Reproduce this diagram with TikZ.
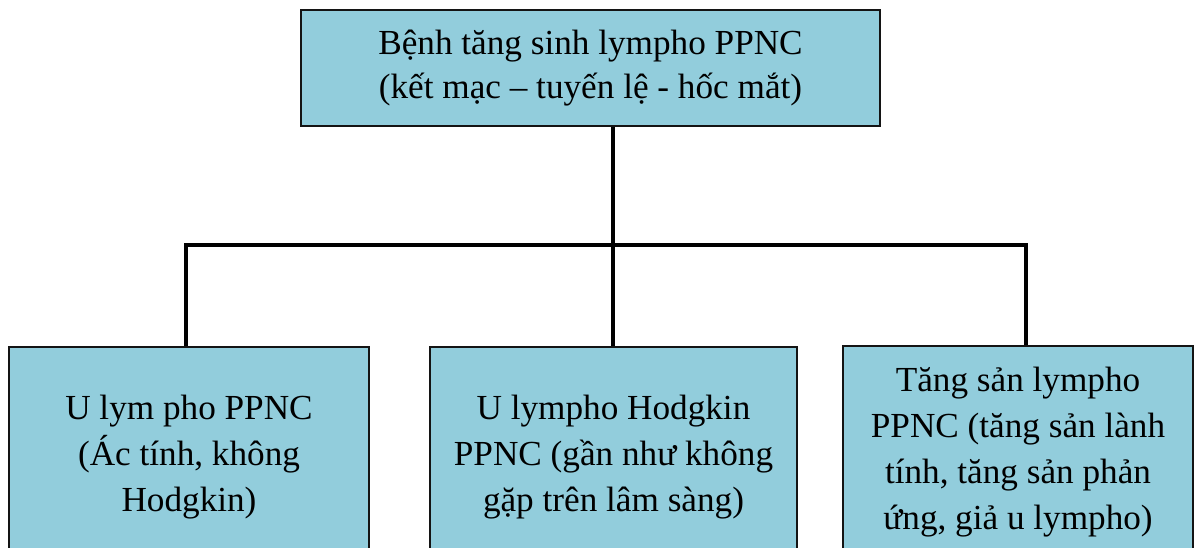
\documentclass[tikz,border=0pt]{standalone}
\usepackage{fontspec}
\setmainfont{Liberation Serif}
\definecolor{boxfill}{RGB}{146,205,220}
\definecolor{boxline}{RGB}{20,20,20}
\begin{document}
\begin{tikzpicture}[x=1pt,y=-1pt,
  box/.style={draw=boxline,line width=2pt,fill=boxfill,rectangle,align=center,
    inner sep=0pt,font=\fontsize{35.2}{46}\selectfont},
  conn/.style={draw=black,line width=3.2pt,line cap=rect}]
\useasboundingbox (0,0) rectangle (1194,548);
\clip (0,0) rectangle (1194,548);
\node[box,minimum width=579pt,minimum height=116pt,font=\fontsize{35.2}{44}\selectfont] (top) at (590.5,68)
  {Bệnh tăng sinh lympho PPNC\\(kết mạc – tuyến lệ - hốc mắt)};
\node[box,minimum width=360pt,minimum height=220pt] (b1) at (189,457)
  {U lym pho PPNC\\(Ác tính, không\\Hodgkin)};
\node[box,minimum width=367pt,minimum height=220pt] (b2) at (613.5,457)
  {U lympho Hodgkin\\PPNC (gần như không\\gặp trên lâm sàng)};
\node[box,minimum width=350pt,minimum height=212pt] (b3) at (1018,452)
  {Tăng sản lympho\\PPNC (tăng sản lành\\tính, tăng sản phản\\ứng, giả u lympho)};
\coordinate (j0) at (613,245);
\coordinate (j1) at (186,245);
\coordinate (j2) at (613,245);
\coordinate (j3) at (1026,245);
\draw[conn,line cap=butt] (j0 |- top.south) -- (j0);
\draw[conn] (j1) -- (j3);
\draw[conn,line cap=butt] (j1) -- (j1 |- b1.north);
\draw[conn,line cap=butt] (j2) -- (j2 |- b2.north);
\draw[conn,line cap=butt] (j3) -- (j3 |- b3.north);
\end{tikzpicture}
\end{document}
